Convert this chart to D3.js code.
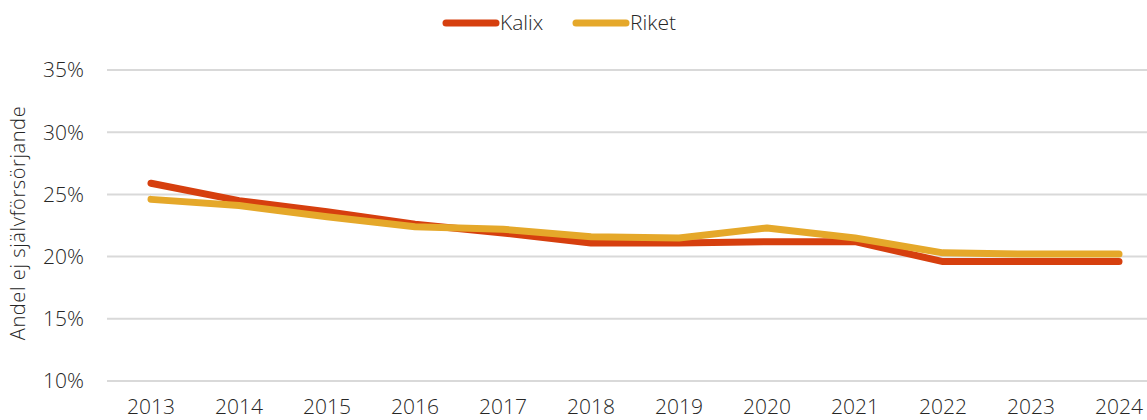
<!DOCTYPE html>
<html>
<head>
<meta charset="utf-8">
<script src="https://cdn.jsdelivr.net/npm/d3@7"></script>
<style>
  html, body { margin: 0; padding: 0; background: #fff; }
  svg { display: block; }
  text { font-family: "Open Sans", Roboto, "Liberation Sans", sans-serif; font-weight: 300; fill: #262626; }
</style>
</head>
<body>
<svg id="chart" width="1147" height="420"></svg>
<script>
// Andel ej självförsörjande, Kalix jämfört med riket
const years = ["2013","2014","2015","2016","2017","2018","2019","2020","2021","2022","2023","2024"];
const kalix = [25.9, 24.5, 23.6, 22.6, 21.9, 21.1, 21.1, 21.2, 21.2, 19.6, 19.6, 19.6];
const riket = [24.6, 24.1, 23.2, 22.4, 22.2, 21.6, 21.5, 22.3, 21.5, 20.3, 20.2, 20.2];
const yTicks = [10, 15, 20, 25, 30, 35];
const seriesNames = ["Kalix", "Riket"];
const colors = ["#D63F0E", "#E5A82A"];

(function draw() {
  const svg = d3.select("#chart");
  const plotLeft = 107, plotTop = 70, plotBottom = 381;
  const step = 88;

  const x = d3.scalePoint().domain(years).range([plotLeft + step / 2, plotLeft + step * 11.5]);
  const y = d3.scaleLinear().domain([10, 35]).range([plotBottom, plotTop]);

  // horizontal gridlines
  svg.append("g").selectAll("line").data(yTicks).join("line")
    .attr("x1", plotLeft).attr("x2", 1147)
    .attr("y1", d => y(d)).attr("y2", d => y(d))
    .attr("stroke", "#D9D9D9").attr("stroke-width", 2);

  // y tick labels
  svg.append("g").selectAll("text").data(yTicks).join("text")
    .attr("x", 84).attr("y", d => y(d)).attr("dy", "0.35em")
    .attr("text-anchor", "end").attr("font-size", 21)
    .text(d => d + "%");

  // x tick labels
  svg.append("g").selectAll("text").data(years).join("text")
    .attr("x", d => x(d)).attr("y", 414)
    .attr("text-anchor", "middle").attr("font-size", 21)
    .text(d => d);

  // y axis title
  svg.append("text")
    .attr("transform", "translate(25,223) rotate(-90)")
    .attr("text-anchor", "middle").attr("font-size", 20)
    .attr("letter-spacing", 0.6)
    .text("Andel ej självförsörjande");

  const line = d3.line().x((d, i) => x(years[i])).y(d => y(d));

  [kalix, riket].forEach((vals, i) => {
    svg.append("path").datum(vals)
      .attr("d", line)
      .attr("fill", "none")
      .attr("stroke", colors[i])
      .attr("stroke-width", 7)
      .attr("stroke-linecap", "round")
      .attr("stroke-linejoin", "round");
  });

  // legend
  const legend = svg.append("g");
  const legendX = [446, 576];
  seriesNames.forEach((name, i) => {
    const g = legend.append("g").attr("transform", `translate(${legendX[i]},23)`);
    g.append("line").attr("x1", 0).attr("x2", 50).attr("y1", 0).attr("y2", 0)
      .attr("stroke", colors[i]).attr("stroke-width", 7).attr("stroke-linecap", "round");
    g.append("text").attr("x", 54).attr("y", 0).attr("dy", "0.35em")
      .attr("font-size", 21).text(name);
  });
})();
</script>
</body>
</html>
